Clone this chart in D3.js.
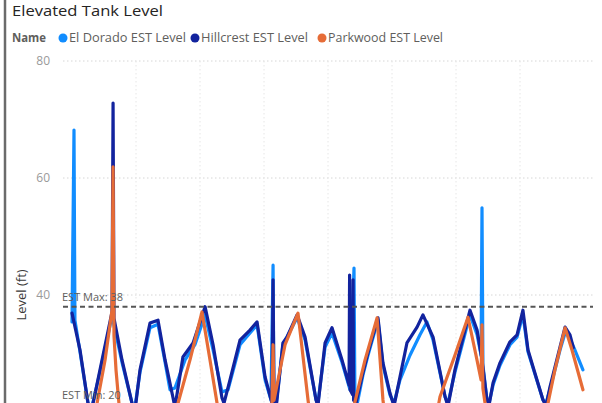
<!DOCTYPE html>
<html>
<head>
<meta charset="utf-8">
<script src="https://cdn.jsdelivr.net/npm/d3@7/dist/d3.min.js"></script>
<style>
  html, body { margin: 0; padding: 0; background: #fff; overflow: hidden; }
  svg { display: block; font-family: "Open Sans", "Noto Sans", sans-serif; }
</style>
</head>
<body>
<script>
// ---- Data (hours since start, level in ft) ----
const seriesNames = ["El Dorado EST Level", "Hillcrest EST Level", "Parkwood EST Level"];
const seriesColors = ["#118DFF", "#12239E", "#E66C37"];
const yGridTicks = [0, 20, 40, 60, 80];
const yTickLabels = [40, 60, 80];   // labels visible in the window
const xGridHours = [24, 48, 72, 96, 120, 144, 168];
const estMax = 38;
const estMin = 20;

const elDoradoHours = [0, 0.75, 1.1, 3, 6, 7, 10.5, 15, 18.75, 22.5, 23.5, 25.5, 29.25, 32.25, 34.9, 36.75, 38.6, 42.4, 46.1, 49.9, 52.9, 56.25, 58.5, 63, 66.75, 69.4, 72.4, 74.6, 75.4, 75.75, 76.5, 79.1, 84.4, 87.4, 91.5, 92.2, 94.9, 97.5, 101.25, 104.25, 105.75, 106.1, 107, 109.1, 111, 114.75, 116.6, 119.25, 120.75, 123, 126.75, 130.5, 133.1, 135.4, 139.9, 141, 143.6, 149.25, 151.9, 153.4, 153.75, 154.1, 155.6, 156.4, 157.9, 160.5, 164.25, 166.9, 169.1, 171, 172.9, 176.6, 177.75, 179.25, 183, 185.25, 188.6, 191.6];
const elDoradoLevel = [35.4, 68.2, 35.7, 30.3, 21.5, 20, 26.8, 36.4, 28.5, 21.5, 20.5, 26.8, 34.4, 35.0, 28.5, 23.8, 24.1, 28.9, 31.5, 36.6, 30.6, 23.4, 23.8, 31.5, 33.5, 34.9, 25.5, 22.1, 45.1, 21.5, 21, 31.5, 36.1, 32.3, 22.1, 21.5, 31.1, 33.5, 28.5, 23.8, 44.6, 22.1, 21.5, 26.3, 29.7, 35.7, 28.0, 22.9, 21.5, 25.5, 29.7, 33.2, 35.4, 32.3, 22.6, 21.5, 26.8, 36.6, 33.2, 29.7, 54.9, 28.0, 22.1, 21.5, 24.6, 28.0, 31.5, 32.8, 36.6, 30.3, 27.5, 22.1, 21.5, 23.9, 30.6, 34.0, 30.6, 27.2];

const hillcrestHours = [0, 3, 6, 7, 10.5, 15, 15.4, 15.75, 18.75, 22.5, 23.5, 25.5, 29.25, 32.25, 34.9, 37.9, 38.6, 41.6, 45.4, 49.9, 52.9, 56.25, 57, 59.25, 63, 66.75, 69.4, 72.4, 75, 75.4, 75.75, 76.5, 79.1, 80.6, 84.4, 87.4, 91.5, 92.2, 94.9, 97.5, 101.25, 103.9, 104.1, 104.3, 105.2, 105.4, 105.6, 106.5, 109.1, 111, 114.75, 116.6, 119.25, 120.75, 123, 125.6, 129.4, 131.6, 135.4, 139.9, 141, 143.6, 149.25, 151.9, 153.75, 155.6, 156.4, 157.9, 160.5, 164.25, 166.9, 169.1, 171, 172.9, 176.6, 177.75, 179.25, 183, 184.9, 186.75, 188];
const hillcrestLevel = [36.9, 30.6, 21.5, 19.5, 27.2, 37.1, 72.8, 36.0, 28.9, 21.5, 19.8, 27.2, 35.2, 35.7, 28.9, 22.4, 20.8, 29.4, 31.8, 38.0, 31.5, 22.4, 21.5, 25.5, 32.3, 34.0, 35.4, 26.0, 21.5, 42.6, 21.0, 20.5, 31.8, 32.8, 36.6, 32.8, 22.1, 21.0, 31.8, 34.4, 28.9, 24.6, 43.4, 23.8, 23.0, 42.6, 22.0, 21.5, 26.7, 30.1, 36.1, 28.4, 23.2, 21.0, 26.0, 31.8, 34.5, 36.6, 32.8, 22.6, 21.0, 27.2, 37.4, 34.0, 28.9, 22.1, 21.2, 25.0, 28.4, 32.0, 33.2, 37.4, 30.6, 27.7, 22.1, 21.0, 24.3, 31.1, 34.5, 33.2, 31.0];

const parkwoodHours = [0, 6, 9.4, 12.4, 15, 15.4, 15.75, 16.5, 17.6, 19, 35.5, 39.75, 44.25, 48.75, 51.75, 54.4, 57, 72, 75, 75.4, 75.75, 79.9, 84.75, 88.5, 90.5, 102, 106, 109.9, 114.4, 116.6, 118.5, 134.5, 138, 143.6, 148.5, 151.5, 153.4, 153.75, 154.1, 154.9, 156.5, 175, 178.5, 181.1, 184.9, 187.5, 191.6];
const parkwoodLevel = [16, 14, 21.5, 28.9, 37.4, 61.9, 33.0, 27.2, 21.5, 15, 14, 21.5, 28.9, 37.1, 28.9, 21.5, 15, 14, 21.5, 31.5, 22.0, 31.5, 36.9, 22.1, 15, 14, 21.5, 28.9, 36.1, 22.1, 15, 14, 22.6, 29.7, 36.2, 29.7, 25.5, 34.9, 24.0, 21.5, 15, 14, 21.5, 27.2, 34.4, 30.6, 23.8];

const seriesHours = [elDoradoHours, hillcrestHours, parkwoodHours];
const seriesLevels = [elDoradoLevel, hillcrestLevel, parkwoodLevel];

// ---- Layout ----
const W = 602, H = 560;
const svg = d3.select("body").append("svg").attr("width", W).attr("height", H);

const plot = { left: 63, right: 593, top: 61, bottom: 529 };
const x = d3.scaleLinear().domain([-3.375, 195.375]).range([plot.left, plot.right]);
const y = d3.scaleLinear().domain([0, 80]).range([plot.bottom, plot.top]);

// left frame border
svg.append("line").attr("x1", 5).attr("x2", 5).attr("y1", 0).attr("y2", H)
  .attr("stroke", "#6b6b6b").attr("stroke-width", 2.5);

// title
svg.append("text").attr("x", 12).attr("y", 16)
  .attr("font-size", 15).attr("fill", "#252423")
  .attr("textLength", 151).attr("lengthAdjust", "spacingAndGlyphs")
  .text("Elevated Tank Level");

// legend
const legend = svg.append("g");
legend.append("text").attr("x", 12).attr("y", 42).attr("font-size", 12)
  .attr("font-weight", "bold").attr("fill", "#605E5C")
  .attr("textLength", 34).attr("lengthAdjust", "spacingAndGlyphs").text("Name");
const legendCx = [63, 195, 322];
const legendW = [117, 107, 115];
seriesNames.forEach((n, i) => {
  legend.append("circle").attr("cx", legendCx[i]).attr("cy", 38).attr("r", 4.5).attr("fill", seriesColors[i]);
  legend.append("text").attr("x", legendCx[i] + 6).attr("y", 42).attr("font-size", 12)
    .attr("fill", "#605E5C").attr("textLength", legendW[i]).attr("lengthAdjust", "spacingAndGlyphs").text(n);
});

// gridlines
const grid = svg.append("g");
grid.selectAll("line.h").data(yGridTicks).enter().append("line")
  .attr("x1", plot.left).attr("x2", plot.right)
  .attr("y1", d => y(d)).attr("y2", d => y(d))
  .attr("stroke", "#d6d6d6").attr("stroke-width", 1).attr("stroke-dasharray", "1.5 2.5");
grid.selectAll("line.v").data(xGridHours).enter().append("line")
  .attr("x1", d => x(d)).attr("x2", d => x(d))
  .attr("y1", plot.top).attr("y2", plot.bottom)
  .attr("stroke", "#e6e6e6").attr("stroke-width", 1).attr("stroke-dasharray", "1.5 2.5");

// y axis labels
const yAxis = d3.axisLeft(y).tickValues(yTickLabels).tickSize(0).tickPadding(0);
const gy = svg.append("g").attr("transform", "translate(50,0)").call(yAxis);
gy.select(".domain").remove();
gy.selectAll("text").attr("font-size", 12).attr("fill", "#9a9a9a")
  .attr("font-family", "\"Open Sans\", sans-serif");

// y title
svg.append("text").attr("transform", `translate(26,${y(40)}) rotate(-90)`)
  .attr("text-anchor", "middle").attr("font-size", 13).attr("fill", "#3b3a39")
  .text("Level (ft)");

// lines
svg.append("clipPath").attr("id", "clip").append("rect")
  .attr("x", plot.left).attr("y", 0).attr("width", plot.right - plot.left).attr("height", plot.bottom);
const line = d3.line().x(d => x(d[0])).y(d => y(d[1]));
const lg = svg.append("g").attr("clip-path", "url(#clip)");
seriesNames.forEach((n, i) => {
  const pts = seriesHours[i].map((h, j) => [h, seriesLevels[i][j]]);
  lg.append("path").datum(pts).attr("d", line)
    .attr("fill", "none").attr("stroke", seriesColors[i]).attr("stroke-width", 3.2)
    .attr("stroke-linejoin", "round").attr("stroke-linecap", "round");
});

// reference lines
[estMax, estMin].forEach((v, i) => {
  svg.append("line").attr("x1", plot.left).attr("x2", plot.right)
    .attr("y1", y(v)).attr("y2", y(v))
    .attr("stroke", "#555").attr("stroke-width", 2).attr("stroke-dasharray", "5 3.5");
  svg.append("text").attr("x", 62).attr("y", i === 0 ? y(v) - 6 : 399).attr("font-size", 11)
    .attr("fill", "#605E5C").text((i === 0 ? "EST Max: " : "EST Min: ") + v);
});
</script>
</body>
</html>
